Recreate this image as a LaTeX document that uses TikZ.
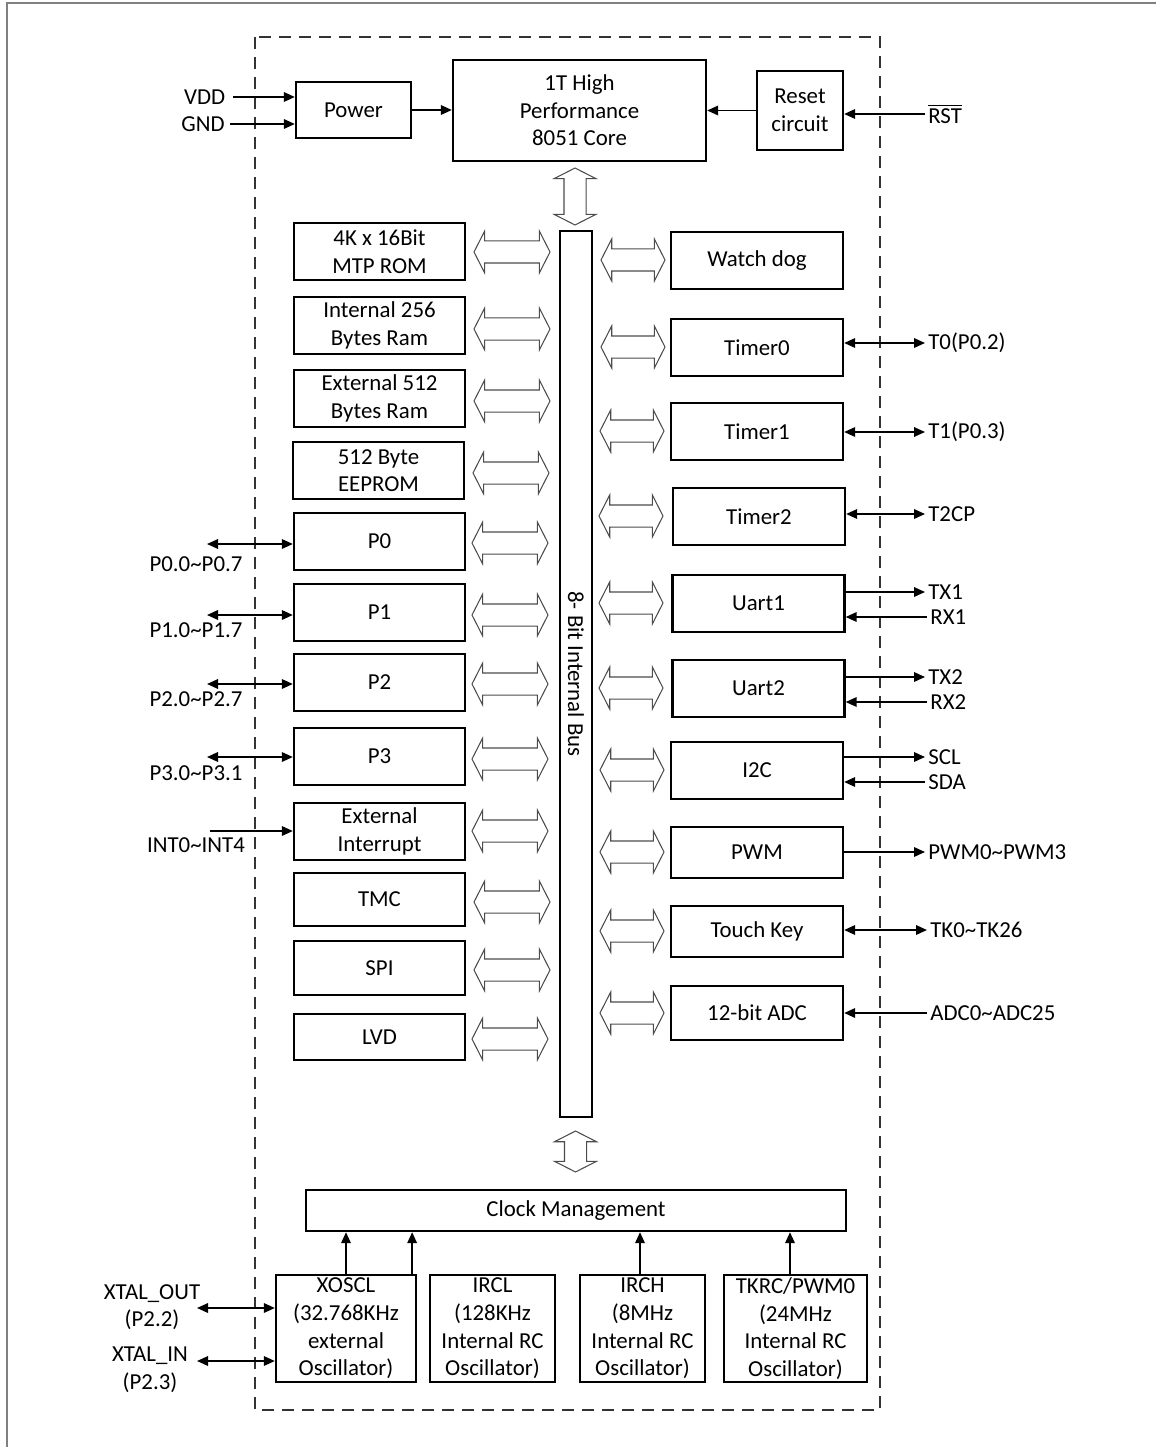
\documentclass[tikz,border=0pt]{standalone}
\usepackage{fontspec}
\setmainfont{Carlito}
\usetikzlibrary{arrows.meta,shapes.arrows}

\begin{document}
\begin{tikzpicture}[x=0.2mm, y=-0.2mm,
  every node/.style={font=\fontsize{13}{15.7}\selectfont, inner sep=1pt},
  blk/.style={draw, line width=1.3pt, align=center, inner sep=0pt, minimum width=34.2mm, minimum height=11.4mm},
  rblk/.style={blk, minimum width=34.4mm},
  oscbox/.style={blk, minimum height=21.4mm},
  fatarrow/.style={double arrow, draw=black!70, line width=0.6pt, inner xsep=0pt, inner ysep=2.1mm, minimum width=8.2mm,
    double arrow head extend=2mm, double arrow tip angle=126},
  sig/.style={inner xsep=0.6mm, inner ysep=0.5mm},
  wire/.style={line width=1pt, >={Triangle[length=2.2mm,width=1.9mm]}}
]
\useasboundingbox (0,0) rectangle (1156,1447);
% page frame and chip outline
\draw[gray, line width=0.4mm] (7,1447) |- (1156,3);
\draw[black!80, line width=0.4mm, dash pattern=on 2.4mm off 1.6mm] (255,37) rectangle (880,1410);

% top row
\node[blk, minimum width=23mm, minimum height=11.2mm] (power) at (353.5,110) {Power};
\node[blk, minimum width=50.6mm, minimum height=20.2mm] (core) at (579.5,110.5) {1T High\\Performance\\8051 Core};
\node[blk, minimum width=17.2mm, minimum height=15.8mm] (reset) at (800,110.5) {Reset\\circuit};
\node[anchor=east, inner xsep=1.5mm] (vdd) at (233,97) {VDD};
\node[anchor=east, inner xsep=1mm] (gnd) at (230,124) {GND};
\node[sig, anchor=west] (rst) at (925,114) {$\overline{\mbox{RST}}$};
\draw[wire,->] (vdd.east) -- (vdd.east -| power.west);
\draw[wire,->] (gnd.east) -- (gnd.east -| power.west);
\draw[wire,->] (power.east) -- (power.east -| core.west);
\draw[wire,->] (reset.west) -- (reset.west -| core.east);
\draw[wire,->] (rst.west) -- (rst.west -| reset.east);

% internal bus
\node[draw, line width=1.3pt, rotate=-90, minimum width=177.2mm, minimum height=6.4mm, inner sep=0pt] (bus) at (576,674) {8- Bit Internal Bus};
\node[fatarrow, rotate=90, minimum height=11.4mm] (corebus) at (575,196.5) {};

% left column
\node[blk] (rom) at (379.5,251.5) {4K x 16Bit\\MTP ROM};
\node[blk] (iram) at (379.5,325.5) {Internal 256\\Bytes Ram};
\node[blk] (xram) at (379.5,398.5) {External 512\\Bytes Ram};
\node[blk] (eeprom) at (378.5,470.5) {512 Byte\\EEPROM};
\node[blk] (p0) at (379.5,541.5) {P0};
\node[blk] (p1) at (379.5,612.5) {P1};
\node[blk] (p2) at (379.5,682.5) {P2};
\node[blk] (p3) at (379.5,756.5) {P3};
\node[blk] (exint) at (379.5,831.5) {External\\Interrupt};
\node[blk, minimum height=10.6mm] (tmc) at (379.5,899.5) {TMC};
\node[blk, minimum height=10.8mm] (spi) at (379.5,968) {SPI};
\node[blk, minimum height=9.2mm] (lvd) at (379.5,1037) {LVD};

\node[fatarrow, minimum height=15.2mm] (lrom) at (512,252) {};
\node[fatarrow, minimum height=15.2mm] (liram) at (512,329) {};
\node[fatarrow, minimum height=15.2mm] (lxram) at (512,401) {};
\node[fatarrow, minimum height=15.2mm] (leeprom) at (511,473) {};
\node[fatarrow, minimum height=15.2mm] (lp0) at (510,543) {};
\node[fatarrow, minimum height=15.2mm] (lp1) at (510,615) {};
\node[fatarrow, minimum height=15.2mm] (lp2) at (510,684) {};
\node[fatarrow, minimum height=15.2mm] (lp3) at (510,759) {};
\node[fatarrow, minimum height=15.2mm] (lexint) at (510,831) {};
\node[fatarrow, minimum height=15.2mm] (ltmc) at (512,902) {};
\node[fatarrow, minimum height=15.2mm] (lspi) at (512,970) {};
\node[fatarrow, minimum height=15.2mm] (llvd) at (510,1039) {};

% port signals
\node (p0s) at (196,564) {P0.0\textasciitilde P0.7};
\node (p1s) at (196,630) {P1.0\textasciitilde P1.7};
\node (p2s) at (196,699) {P2.0\textasciitilde P2.7};
\node (p3s) at (196,773) {P3.0\textasciitilde P3.1};
\node (ints) at (196,845) {INT0\textasciitilde INT4};
\coordinate (p0e) at (207,544);
\coordinate (p1e) at (207,615);
\coordinate (p2e) at (207,684);
\coordinate (p3e) at (207,757);
\coordinate (inte) at (210,831);
\draw[wire,<->] (p0e) -- (p0e -| p0.west);
\draw[wire,<->] (p1e) -- (p1e -| p1.west);
\draw[wire,<->] (p2e) -- (p2e -| p2.west);
\draw[wire,<->] (p3e) -- (p3e -| p3.west);
\draw[wire,->] (inte) -- (inte -| exint.west);

% right column
\node[rblk] (wdt) at (757,260.5) {Watch dog};
\node[rblk] (t0) at (757,347.5) {Timer0};
\node[rblk] (t1) at (757,431.5) {Timer1};
\node[rblk] (t2) at (759,516.5) {Timer2};
\node[rblk] (u1) at (758.5,603.5) {Uart1};
\node[rblk] (u2) at (758.5,688.5) {Uart2};
\node[rblk] (i2c) at (757,770.5) {I2C};
\node[rblk, minimum height=10.2mm] (pwm) at (757,852.5) {PWM};
\node[rblk, minimum height=10.2mm] (tk) at (757,931.5) {Touch Key};
\node[rblk, minimum height=10.8mm] (adc) at (757,1013) {12-bit ADC};

\node[fatarrow, minimum height=12.8mm] (rwdt) at (633,260) {};
\node[fatarrow, minimum height=12.8mm] (rt0) at (633,347) {};
\node[fatarrow, minimum height=12.8mm] (rt1) at (632,431) {};
\node[fatarrow, minimum height=12.8mm] (rt2) at (631,516) {};
\node[fatarrow, minimum height=12.8mm] (ru1) at (631,603) {};
\node[fatarrow, minimum height=12.8mm] (ru2) at (631,688) {};
\node[fatarrow, minimum height=12.8mm] (ri2c) at (632,770) {};
\node[fatarrow, minimum height=12.8mm] (rpwm) at (632,852) {};
\node[fatarrow, minimum height=12.8mm] (rtk) at (632,931) {};
\node[fatarrow, minimum height=12.8mm] (radc) at (632,1013) {};

% peripheral signals
\node[sig, anchor=west] (t0s) at (925,343) {T0(P0.2)};
\node[sig, anchor=west] (t1s) at (925,432) {T1(P0.3)};
\node[sig, anchor=west] (t2s) at (925,514) {T2CP};
\node[sig, anchor=west] (tx1) at (925,592) {TX1};
\node[sig, anchor=west] (rx1) at (927,617) {RX1};
\node[sig, anchor=west] (tx2) at (925,677) {TX2};
\node[sig, anchor=west] (rx2) at (927,702) {RX2};
\node[sig, anchor=west] (scl) at (925,757) {SCL};
\node[sig, anchor=west] (sda) at (925,782) {SDA};
\node[sig, anchor=west] (pwms) at (925,852) {PWM0\textasciitilde PWM3};
\node[sig, anchor=west] (tks) at (927,930) {TK0\textasciitilde TK26};
\node[sig, anchor=west] (adcs) at (927,1013) {ADC0\textasciitilde ADC25};
\draw[wire,<->] (t0s.west) -- (t0s.west -| t0.east);
\draw[wire,<->] (t1s.west) -- (t1s.west -| t1.east);
\draw[wire,<->] (t2s.west) -- (t2s.west -| t2.east);
\draw[wire,->] (tx1.west -| u1.east) -- (tx1.west);
\draw[wire,<-] (rx1.west -| u1.east) -- (rx1.west);
\draw[wire,->] (tx2.west -| u2.east) -- (tx2.west);
\draw[wire,<-] (rx2.west -| u2.east) -- (rx2.west);
\draw[wire,->] (scl.west -| i2c.east) -- (scl.west);
\draw[wire,<-] (sda.west -| i2c.east) -- (sda.west);
\draw[wire,->] (pwms.west -| pwm.east) -- (pwms.west);
\draw[wire,<->] (tks.west -| tk.east) -- (tks.west);
\draw[wire,<-] (adcs.west -| adc.east) -- (adcs.west);

% clock system
\node[fatarrow, rotate=90, minimum height=8.2mm] (busclk) at (575.5,1151.5) {};
\node[blk, minimum width=108mm, minimum height=8.2mm] (clk) at (576,1210.5) {Clock Management};
\node[oscbox, minimum width=28mm] (xoscl) at (346,1328.5) {XOSCL\\(32.768KHz\\external\\Oscillator)};
\node[oscbox, minimum width=25mm] (ircl) at (492.5,1328.5) {IRCL\\(128KHz\\Internal RC\\Oscillator)};
\node[oscbox, minimum width=25mm] (irch) at (642.5,1328.5) {IRCH\\(8MHz\\Internal RC\\Oscillator)};
\node[oscbox, minimum width=28.6mm] (tkrc) at (795.5,1328.5) {TKRC/PWM0\\(24MHz\\Internal RC\\Oscillator)};
\draw[wire,->] (xoscl.north) -- (xoscl.north |- clk.south);
\draw[wire,->] ([xshift=-1mm]xoscl.north east) -- ([xshift=-1mm]xoscl.north east |- clk.south);
\draw[wire,->] ([xshift=-0.5mm]irch.north) -- ([xshift=-0.5mm]irch.north |- clk.south);
\draw[wire,->] ([xshift=-1.1mm]tkrc.north) -- ([xshift=-1.1mm]tkrc.north |- clk.south);

\node[align=center] (xout) at (152,1307) {XTAL\_OUT\\(P2.2)};
\node[align=center] (xin) at (150,1369.5) {XTAL\_IN\\(P2.3)};
\coordinate (xoute) at (197,1308);
\coordinate (xine) at (197,1361);
\draw[wire,<->] (xoute) -- (xoute -| xoscl.west);
\draw[wire,<->] (xine) -- (xine -| xoscl.west);
\end{tikzpicture}
\end{document}
